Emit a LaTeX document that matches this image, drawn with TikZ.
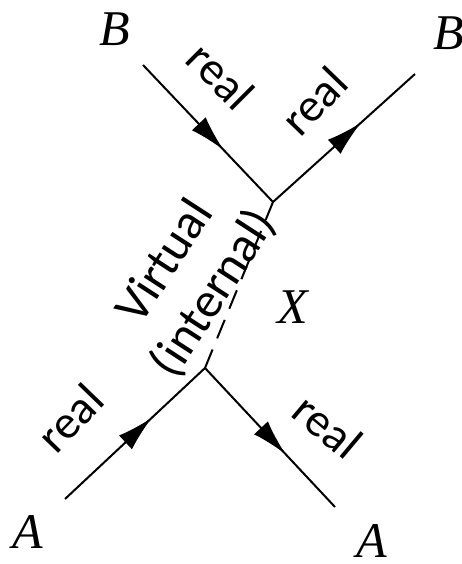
\documentclass[tikz,border=0pt]{standalone}
\usepackage{fontspec}
\setmainfont{Liberation Serif}
\newfontfamily\tagfont{Carlito}
\usetikzlibrary{arrows.meta,decorations.markings}

\begin{document}
\begin{tikzpicture}[x=1pt, y=-1pt,
  realline/.style={line width=2pt, postaction={decorate},
    decoration={markings, mark=at position 0.62 with {\arrow{Latex[length=36pt,width=19pt]}}}},
  virtualline/.style={line width=2pt, dash pattern=on 20pt off 12pt},
  particle/.style={font=\fontsize{50}{60}\selectfont\itshape, inner sep=0pt},
  tag/.style={font=\tagfont\fontsize{47}{56}\selectfont, inner sep=0pt, align=center}
]
\useasboundingbox (0,0) rectangle (461,564);
% vertices
\coordinate (top) at (273,202);
\coordinate (bot) at (205,368);
% free ends
\coordinate (bin) at (143,65);
\coordinate (bout) at (415,74);
\coordinate (ain) at (65,499);
\coordinate (aout) at (335,507);
% particle names
\node[particle] (bleft) at (115,29) {B};
\node[particle] (bright) at (449,33) {B};
\node[particle] (aleft) at (28,532) {A};
\node[particle] (aright) at (372,541) {A};
\node[particle] (xname) at (293,307) {X};
% lines
\draw[realline] (bin) -- (top);
\draw[realline] (top) -- (bout);
\draw[realline] (ain) -- (bot);
\draw[realline] (bot) -- (aout);
\draw[virtualline] (bot) -- (top);
% tags
\node[tag, rotate=-45] (realbin) at (221,76) {real};
\node[tag, rotate=46] (realbout) at (314,101) {real};
\node[tag, rotate=46] (realain) at (70,418) {real};
\node[tag, rotate=-40] (realaout) at (328,426) {real};
\node[tag, rotate=57, font=\tagfont\fontsize{50}{58}\selectfont] (virt) at (190,278) {Virtual\\(internal)};
\end{tikzpicture}
\end{document}
